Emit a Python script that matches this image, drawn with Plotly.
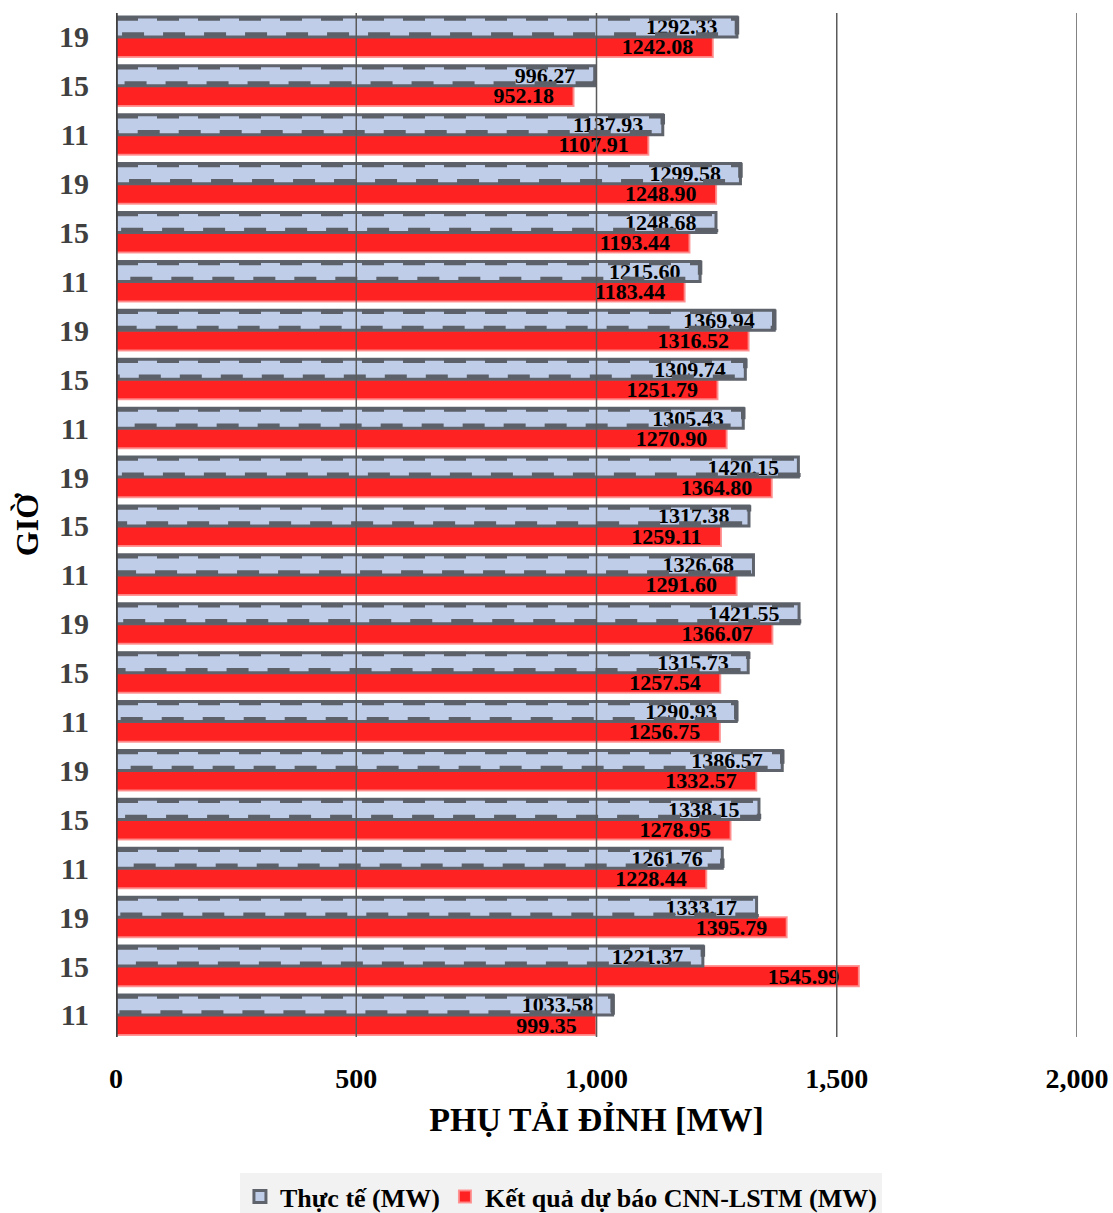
import plotly.graph_objects as go

# ---- data (bottom to top) ----
hours = ["11", "15", "19"] * 7
actual = [1033.58, 1221.37, 1333.17, 1261.76, 1338.15, 1386.57, 1290.93,
          1315.73, 1421.55, 1326.68, 1317.38, 1420.15, 1305.43, 1309.74,
          1369.94, 1215.60, 1248.68, 1299.58, 1137.93, 996.27, 1292.33]
forecast = [999.35, 1545.99, 1395.79, 1228.44, 1278.95, 1332.57, 1256.75,
            1257.54, 1366.07, 1291.60, 1259.11, 1364.80, 1270.90, 1251.79,
            1316.52, 1183.44, 1193.44, 1248.90, 1107.91, 952.18, 1242.08]
x_ticks = [0, 500, 1000, 1500, 2000]
name_actual = "Thực tế (MW)"
name_forecast = "Kết quả dự báo CNN-LSTM (MW)"

FONT = "Liberation Serif, Times New Roman, serif"
NB = "\u00a0"
pos = list(range(len(hours)))
BW = 0.41

fig = go.Figure()

# forecast (lower half of each category)
fig.add_trace(go.Bar(
    y=pos, x=forecast, orientation="h", name=name_forecast,
    width=BW, offset=-BW,
    marker=dict(color="#ff2222", line=dict(color="rgba(255,140,140,0.9)", width=2)),
    texttemplate="%{x:.2f}" + NB * 3, textposition="inside", insidetextanchor="end",
    constraintext="none", textangle=0,
    insidetextfont=dict(family=FONT, size=22, color="black", weight="bold"),
    cliponaxis=False, legendrank=2,
))

# actual (upper half of each category)
fig.add_trace(go.Bar(
    y=pos, x=actual, orientation="h", name=name_actual,
    width=BW, offset=0,
    marker=dict(color="#bfcde8", line=dict(color="#5f646c", width=3)),
    texttemplate="%{x:.2f}" + NB * 3, textposition="inside", insidetextanchor="end",
    constraintext="none", textangle=0,
    insidetextfont=dict(family=FONT, size=22, color="black", weight="bold"),
    cliponaxis=False, legendrank=1,
))

# dashed outline of the actual bars (derived from data)
ox, oy = [], []
for p, v in zip(pos, actual):
    ox += [0, v, v, 0, None]
    oy += [p + BW - 0.03, p + BW - 0.03, p + 0.05, p + 0.05, None]
fig.add_trace(go.Scatter(
    x=ox, y=oy, mode="lines", showlegend=False, hoverinfo="skip",
    line=dict(color="#5c6169", width=4.5, dash="22px,19px"),
))

shapes = []
for t in x_ticks[1:]:
    shapes.append(dict(type="line", xref="x", yref="paper", x0=t, x1=t, y0=0, y1=1,
                       line=dict(color="#5a5a5a", width=1.5), layer="above"))
shapes.append(dict(type="line", xref="x", yref="paper", x0=0, x1=0, y0=0, y1=1,
                   line=dict(color="#404040", width=3.5), layer="above"))

fig.update_layout(
    width=1113, height=1213,
    margin=dict(l=116, r=36, t=13, b=176, autoexpand=False),
    paper_bgcolor="white", plot_bgcolor="white",
    barmode="overlay",
    font=dict(family=FONT, color="black"),
    shapes=shapes,
    showlegend=True,
    legend=dict(orientation="h", x=0.463, xanchor="center", y=-0.133, yanchor="top",
                bgcolor="#f2f2f2", font=dict(family=FONT, size=26, color="black",
                                             weight="bold"),
                traceorder="normal", itemwidth=30),
    xaxis=dict(range=[0, 2000], tickvals=x_ticks, tickformat=",d",
               showgrid=False, zeroline=False, showline=False, automargin=False,
               tickfont=dict(family=FONT, size=28, color="black", weight="bold"),
               ticklabelstandoff=22,
               title=dict(text="PHỤ TẢI ĐỈNH [MW]", standoff=14,
                          font=dict(family=FONT, size=34, color="black", weight="bold"))),
    yaxis=dict(range=[-0.45, 20.49], tickvals=pos, ticktext=hours,
               showgrid=False, zeroline=False, showline=False, automargin=False,
               tickfont=dict(family=FONT, size=30, color="#404040", weight="bold"),
               ticklabelstandoff=26,
               title=dict(text="GIỜ", standoff=10,
                          font=dict(family=FONT, size=32, color="black", weight="bold"))),
)

fig.write_html(
    "out.html",
    config={"displayModeBar": False},
    post_script="document.body.style.margin='0';document.body.style.overflow='hidden';",
)
